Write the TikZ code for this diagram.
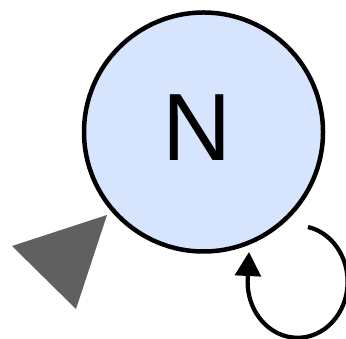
\documentclass[tikz,border=0pt]{standalone}
\usepackage{fontspec}
\setmainfont{Liberation Sans}
\usepackage{xcolor}
\usepackage{tikz}
\usetikzlibrary{arrows.meta,positioning,calc}

\definecolor{statefill}{RGB}{214,228,253}
\definecolor{markgray}{RGB}{96,96,96}

\begin{document}
\begin{tikzpicture}[
    x=0.025cm, y=0.025cm,
    state/.style={circle, draw, line width=3.2pt, fill=statefill, minimum size=239*0.025cm, inner sep=0pt},
    statetext/.style={inner sep=0pt, font=\fontsize{68}{68}\selectfont},
    marker/.style={fill=markgray, draw=none},
    arrow/.style={-{Triangle[length=0.6cm, width=0.64cm]}, line width=3pt}
]
\useasboundingbox (0,0) rectangle (346,339);

% State
\node[state] (n) at (203.5,207) {};
\node[statetext] (nlabel) at ($(n.center)+(-6,4)$) {N};

% Marker
\coordinate (m1) at (12,93);
\coordinate (m2) at (107,124);
\coordinate (m3) at (76,30);
\fill[marker] (m1) -- (m2) -- (m3) -- cycle;

% Self loop
\coordinate (loopstart) at (308,112);
\coordinate (looptip) at (249,87);
\draw[arrow] (loopstart) arc[start angle=78, end angle=-180, x radius=50, y radius=56] -- (looptip);

\end{tikzpicture}
\end{document}
